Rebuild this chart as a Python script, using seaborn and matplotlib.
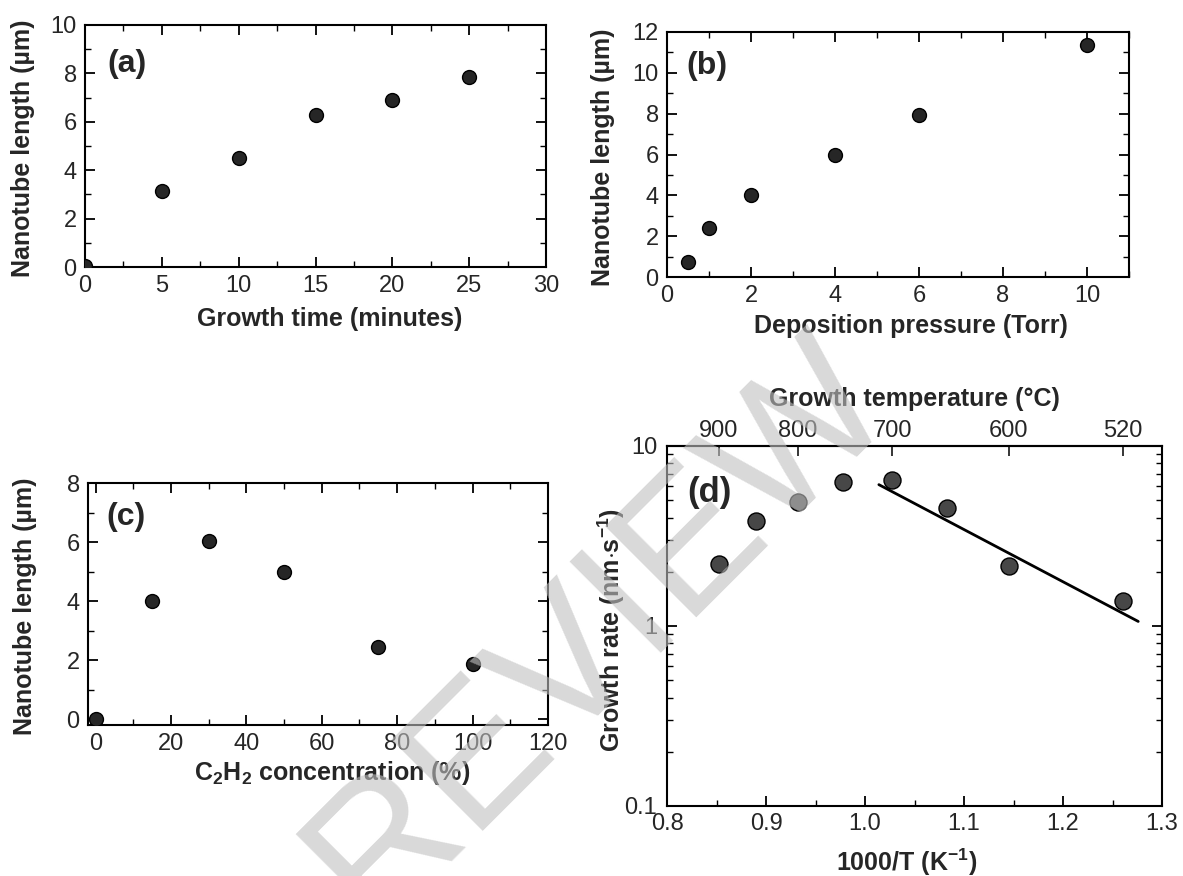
import numpy as np
import pandas as pd
import seaborn as sns
import matplotlib.pyplot as plt
from matplotlib.ticker import MultipleLocator, LogLocator, NullFormatter, NullLocator

# (a) length vs growth time
time_min = [0, 5, 10, 15, 20, 25]
length_time = [0.05, 3.15, 4.5, 6.3, 6.9, 7.85]

# (b) length vs deposition pressure
pressure_torr = [0.5, 1, 2, 4, 6, 10]
length_pressure = [0.74, 2.42, 4.0, 5.96, 7.94, 11.34]

# (c) length vs C2H2 concentration
c2h2_pct = [0, 15, 30, 50, 75, 100]
length_c2h2 = [0.0, 4.0, 6.04, 5.0, 2.44, 1.88]

# (d) growth rate vs temperature
temp_c = [900, 850, 800, 750, 700, 650, 600, 520]
rate_nm_s = [2.2, 3.85, 4.9, 6.3, 6.5, 4.5, 2.15, 1.37]
fit_inv_t = [1.014, 1.276]
fit_rate = [6.1, 1.06]
top_ticks_c = [900, 800, 700, 600, 520]

sns.set_style("ticks")
plt.rcParams['font.family'] = ['Liberation Sans', 'DejaVu Sans']
plt.rcParams['mathtext.fontset'] = 'custom'
plt.rcParams['mathtext.rm'] = 'Liberation Sans'
plt.rcParams['mathtext.bf'] = 'Liberation Sans:bold'

TICK_FS = 17
LABEL_FS = 18
marker_kw = dict(s=100, color='#262626', edgecolor='black', linewidth=1.0, zorder=3, legend=False)


def style_axes(ax, xpad=6, ypad=6):
    for sp in ax.spines.values():
        sp.set_linewidth(1.5)
        sp.set_color('black')
    ax.tick_params(which='both', direction='in', top=True, right=True,
                   labelsize=TICK_FS, color='black')
    ax.tick_params(axis='x', which='both', pad=xpad)
    ax.tick_params(axis='y', which='both', pad=ypad)
    ax.tick_params(which='major', length=7, width=1.3)
    ax.tick_params(which='minor', length=4, width=1.0)


W, H = 1183, 876
fig = plt.figure(figsize=(W / 100, H / 100), dpi=100)


def add_ax(left, top, right, bottom):
    return fig.add_axes([left / W, 1 - bottom / H, (right - left) / W, (bottom - top) / H])


ax_a = add_ax(85, 25, 546, 267)
ax_b = add_ax(667, 32, 1129, 277)
ax_c = add_ax(88, 483, 548, 725)
ax_d = add_ax(667, 446, 1162, 806)

# (a)
sns.scatterplot(x=time_min, y=length_time, ax=ax_a, **marker_kw)
ax_a.set_xlim(0, 30)
ax_a.set_ylim(0, 10)
ax_a.xaxis.set_major_locator(MultipleLocator(5))
ax_a.xaxis.set_minor_locator(MultipleLocator(2.5))
ax_a.yaxis.set_major_locator(MultipleLocator(2))
ax_a.yaxis.set_minor_locator(MultipleLocator(1))
ax_a.set_xlabel('Growth time (minutes)', fontsize=LABEL_FS, fontweight='bold')
ax_a.set_ylabel('Nanotube length (µm)', fontsize=LABEL_FS, fontweight='bold')
ax_a.xaxis.set_label_coords(0.53, -0.165)
ax_a.yaxis.set_label_coords(-0.108, 0.49)
ax_a.text(0.048, 0.84, '(a)', transform=ax_a.transAxes, fontsize=23, fontweight='bold', va='center')

# (b)
sns.scatterplot(x=pressure_torr, y=length_pressure, ax=ax_b, **marker_kw)
ax_b.set_xlim(0, 11)
ax_b.set_ylim(0, 12)
ax_b.xaxis.set_major_locator(MultipleLocator(2))
ax_b.xaxis.set_minor_locator(MultipleLocator(1))
ax_b.yaxis.set_major_locator(MultipleLocator(2))
ax_b.yaxis.set_minor_locator(MultipleLocator(1))
ax_b.set_xlabel('Deposition pressure (Torr)', fontsize=LABEL_FS, fontweight='bold')
ax_b.set_ylabel('Nanotube length (µm)', fontsize=LABEL_FS, fontweight='bold')
ax_b.xaxis.set_label_coords(0.528, -0.152)
ax_b.yaxis.set_label_coords(-0.112, 0.49)
ax_b.text(0.043, 0.86, '(b)', transform=ax_b.transAxes, fontsize=23, fontweight='bold', va='center')

# (c)
sns.scatterplot(x=c2h2_pct, y=length_c2h2, ax=ax_c, **marker_kw)
ax_c.set_xlim(-2, 120)
ax_c.set_ylim(-0.2, 8)
ax_c.xaxis.set_major_locator(MultipleLocator(20))
ax_c.xaxis.set_minor_locator(MultipleLocator(10))
ax_c.yaxis.set_major_locator(MultipleLocator(2))
ax_c.yaxis.set_minor_locator(MultipleLocator(1))
ax_c.set_xlabel(r'C$_\mathbf{2}$H$_\mathbf{2}$ concentration (%)', fontsize=LABEL_FS, fontweight='bold')
ax_c.set_ylabel('Nanotube length (µm)', fontsize=LABEL_FS, fontweight='bold')
ax_c.xaxis.set_label_coords(0.53, -0.14)
ax_c.yaxis.set_label_coords(-0.111, 0.49)
ax_c.text(0.041, 0.86, '(c)', transform=ax_c.transAxes, fontsize=23, fontweight='bold', va='center')

# (d)
inv_t = [1000.0 / (t + 273.15) for t in temp_c]
df_d = pd.DataFrame({'inv_t': inv_t, 'rate': rate_nm_s})
d_kw = dict(marker_kw, s=150, color='#474747')
sns.scatterplot(data=df_d, x='inv_t', y='rate', ax=ax_d, **d_kw)
sns.lineplot(x=fit_inv_t, y=fit_rate, ax=ax_d, color='black', linewidth=2.0)
ax_d.set_yscale('log')
ax_d.set_xlim(0.8, 1.3)
ax_d.set_ylim(0.1, 10)
ax_d.xaxis.set_major_locator(MultipleLocator(0.1))
ax_d.xaxis.set_minor_locator(MultipleLocator(0.05))
ax_d.xaxis.set_major_formatter(plt.FormatStrFormatter('%.1f'))
ax_d.set_yticks([0.1, 1, 10])
ax_d.set_yticklabels(['0.1', '1', '10'])
ax_d.yaxis.set_minor_locator(LogLocator(base=10, subs=np.arange(2, 10)))
ax_d.yaxis.set_minor_formatter(NullFormatter())
ax_d.set_xlabel(r'1000/T (K$^{\mathbf{-1}}$)', fontsize=LABEL_FS, fontweight='bold')
ax_d.set_ylabel(r'Growth rate (nm$\cdot$s$^{\mathbf{-1}}$)', fontsize=LABEL_FS, fontweight='bold')
ax_d.xaxis.set_label_coords(0.485, -0.112)
ax_d.yaxis.set_label_coords(-0.08, 0.49)
ax_d.text(0.04, 0.87, '(d)', transform=ax_d.transAxes, fontsize=25, fontweight='bold', va='center')

for ax in (ax_a, ax_b, ax_c):
    style_axes(ax)
style_axes(ax_d, xpad=5, ypad=7)
ax_d.tick_params(which='both', top=False)


def inv_to_c(x):
    x = np.asarray(x, dtype=float)
    with np.errstate(divide='ignore'):
        return 1000.0 / x - 273.15


def c_to_inv(c):
    c = np.asarray(c, dtype=float)
    with np.errstate(divide='ignore'):
        return 1000.0 / (c + 273.15)


sec = ax_d.secondary_xaxis('top', functions=(inv_to_c, c_to_inv))
sec.set_xticks(top_ticks_c)
sec.set_xticklabels([str(t) for t in top_ticks_c])
sec.xaxis.set_minor_locator(NullLocator())
sec.tick_params(direction='in', length=7, width=1.3, labelsize=TICK_FS, pad=3)
sec.spines['top'].set_linewidth(1.5)
sec.set_xlabel('Growth temperature (°C)', fontsize=LABEL_FS, fontweight='bold')
sec.xaxis.set_label_coords(0.5, 1.112, transform=ax_d.transAxes)

# watermark
fig.text(0.507, 0.281, 'REVIEW', rotation=45, fontsize=135, color='#c0c0c0', alpha=0.6,
         ha='center', va='center', zorder=10)

fig.savefig('out.png', dpi=100)
